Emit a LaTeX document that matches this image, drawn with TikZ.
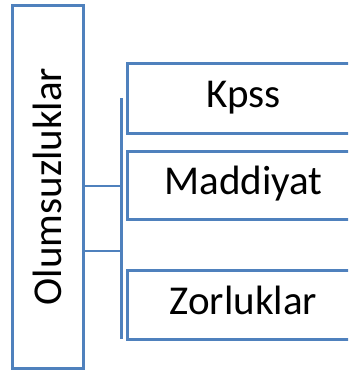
\documentclass[tikz,border=0pt]{standalone}
\usepackage{fontspec}
\setmainfont{Carlito}
\usetikzlibrary{positioning}
\definecolor{boxblue}{RGB}{79,129,189}

\begin{document}
\begin{tikzpicture}[x=1pt,y=1pt,
  kutu/.style={draw=boxblue,line width=3pt,fill=white,inner sep=0pt,
    font=\fontsize{41}{48}\selectfont},
  bag/.style={draw=boxblue,line width=2.3pt}]

\clip (0,0) rectangle (348,-372);

\node [kutu,minimum width=71pt,minimum height=363pt] (olum) at (47.5,-186.5)
  {\rotatebox{90}{Olumsuzluklar}};

\def\maddeler{1/-98/70/{Kpss},2/-185/68/{Maddiyat},3/-304.5/69/{Zorluklar}}
\foreach \i / \y / \h / \element in \maddeler
  \node [kutu,anchor=west,minimum width=232pt,minimum height=\h pt] (m\i) at (126,\y) {\strut \element};

\coordinate (bus1) at (121.5,-98);
\coordinate (bus2) at (121.5,-339);
\coordinate (j1) at (121.5,-186);
\coordinate (j2) at (121.5,-251);

\draw[bag] (bus1) -- (bus2);
\draw[bag] (j1 -| olum.east) -- (j1);
\draw[bag] (j2 -| olum.east) -- (j2);

\end{tikzpicture}
\end{document}
